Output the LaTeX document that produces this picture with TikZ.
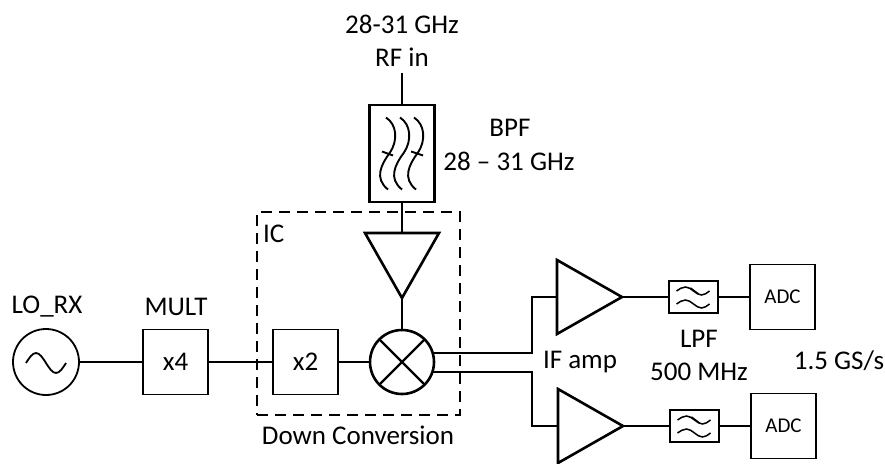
\documentclass[tikz,border=0pt]{standalone}
\usepackage{fontspec}
\setmainfont{Carlito}
\usetikzlibrary{positioning,shapes.geometric}

\begin{document}
\begin{tikzpicture}[
      x=1pt,y=-1pt,
      outer sep=0pt,
      wire/.style={line width=1.6pt},
      block/.style={draw,line width=1.6pt,minimum width=65pt,minimum height=65pt,inner sep=0pt},
      filt/.style={draw,line width=2.6pt,inner sep=0pt},
      lbl/.style={inner sep=0pt,font=\fontsize{27}{30}\selectfont},
      amp/.style={draw,line width=2.6pt,isosceles triangle,isosceles triangle stretches,
        inner sep=0pt,minimum width=74pt,minimum height=65pt}]
    \useasboundingbox (0,0) rectangle (885,463);
    % dashed outline goes first so the wires cross it
    \node[draw,dashed,line width=1.6pt,dash pattern=on 11pt off 7pt,minimum width=203pt,minimum height=203pt,inner sep=0pt] (ic) at (358.5,313.5) {};
    \node[lbl,anchor=west] (iclabel) at (263,234) {IC};
    \node[lbl] (downlabel) at (358,435) {Down Conversion};

    % LO chain
    \node[draw,circle,line width=1.8pt,minimum size=66pt,inner sep=0pt] (lo) at (46,362) {};
    \node[block,font=\fontsize{27}{30}\selectfont,right=64pt of lo] (mulf) {x4};
    \node[block,font=\fontsize{27}{30}\selectfont,right=65pt of mulf] (mulic) {x2};
    \node[draw,circle,line width=2.6pt,minimum size=64pt,inner sep=0pt,right=32pt of mulic] (mix) {};
    \node[lbl] (lolabel) at (47,307) {LO\_RX};
    \node[lbl] (multlabel) at (176,307) {MULT};

    % RF path
    \node[amp,shape border rotate=-90,anchor=apex,above=32pt of mix] (lna) {};
    \node[filt,minimum width=65pt,minimum height=97pt,above=31pt of lna.lower side] (bpf) {};
    \coordinate[above=32pt of bpf] (rfend);
    \node[lbl] (rflabel) at (402,57) {RF in};
    \node[lbl] (freqlabel) at (402,24) {28-31 GHz};
    \node[lbl] (bpflabel) at (510,128) {BPF};
    \node[lbl] (bpffreq) at (509,161) {28 -- 31 GHz};

    % IF paths
    \node[amp,anchor=lower side] (ifa) at (557,297) {};
    \node[amp,anchor=lower side] (ifb) at (558,426) {};
    \node[filt,minimum width=49pt,minimum height=32pt,right=47pt of ifa.apex] (lpfa) {};
    \node[filt,minimum width=49pt,minimum height=32pt,right=47pt of ifb.apex] (lpfb) {};
    \node[block,font=\fontsize{21}{24}\selectfont,right=32pt of lpfa] (adca) {ADC};
    \node[block,font=\fontsize{21}{24}\selectfont,right=32pt of lpfb] (adcb) {ADC};
    \coordinate (kneea) at (532,297);
    \coordinate (kneeb) at (532,426);
    \node[lbl] (iflabel) at (580,362) {IF amp};
    \node[lbl] (lpflabel) at (699,339) {LPF};
    \node[lbl] (lpffreq) at (699,372) {500 MHz};
    \node[lbl] (ratelabel) at (839,361) {1.5 GS/s};

    \draw[wire] (lo)--(mulf);
    \draw[wire] (mulf)--(mulic);
    \draw[wire] (mulic)--(mix);
    \draw[wire] (rfend)--(bpf);
    \draw[wire] (bpf)--(lna.lower side);
    \draw[wire] (lna.apex)--(mix);
    \draw[wire] (mix.16) -| (kneea) -- (ifa.lower side);
    \draw[wire] (mix.-18) -| (kneeb) -- (ifb.lower side);
    \draw[wire] (ifa.apex)--(lpfa);
    \draw[wire] (ifb.apex)--(lpfb);
    \draw[wire] (lpfa)--(adca);
    \draw[wire] (lpfb)--(adcb);

    % symbols inside the blocks
    \draw[line width=2.2pt] (mix.45)--(mix.225) (mix.135)--(mix.-45);
    \draw[line width=1.8pt,shift={(lo)}] (-20,1) sin (-10,-9) cos (0,1) sin (10,11) cos (20,1);
    \foreach \ox in {0,14,28}
      \draw[line width=1.9pt,shift={(bpf)}] (-16+\ox,-36) .. controls (-5+\ox,-29) and (-4+\ox,-13) .. (-12+\ox,-1)
        .. controls (-21+\ox,11) and (-28+\ox,25) .. (-14+\ox,36);
    \draw[line width=1.9pt,shift={(bpf)}] (-20,-2)--(-9,2) (9,-2)--(21,2);
    \foreach \n in {lpfa,lpfb}
      \draw[line width=1.5pt,shift={(\n)}] (-17,-6) sin (-8,-10) cos (0,-6) sin (8,-2) cos (16,-6)
        (-17,7) sin (-8,3) cos (0,7) sin (8,11) cos (16,7)
        (-3,-9)--(5,-3);
  \end{tikzpicture}
\end{document}
